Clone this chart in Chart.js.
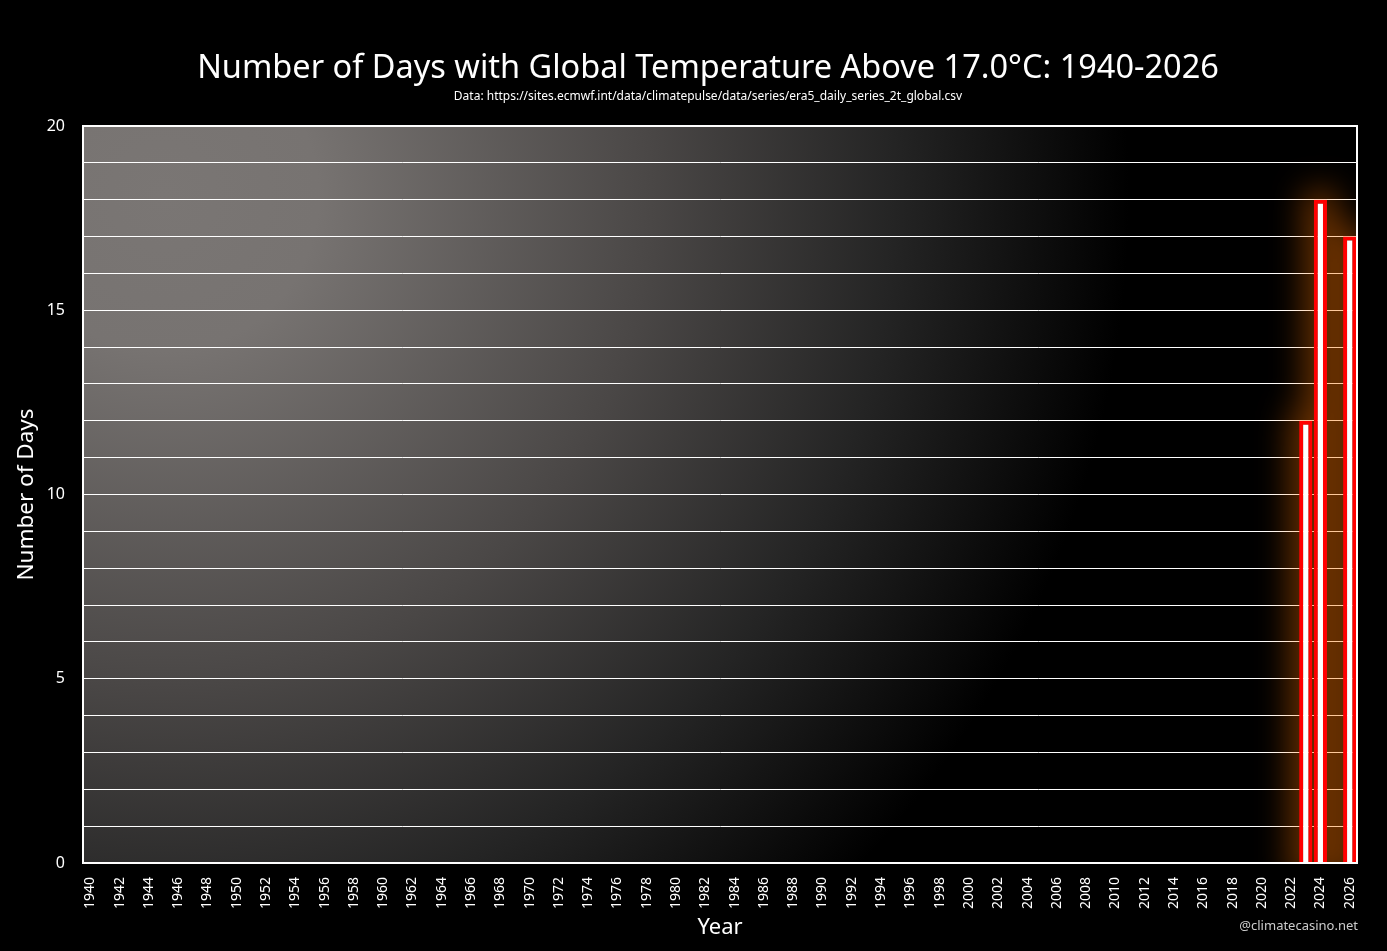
<!DOCTYPE html>
<html>
<head>
<meta charset="utf-8">
<script src="https://cdn.jsdelivr.net/npm/chart.js@4/dist/chart.umd.min.js"></script>
<style>
  html, body { margin: 0; padding: 0; background: #000; }
  #wrap { width: 1387px; height: 951px; }
</style>
</head>
<body>
<div id="wrap"><canvas id="chart" width="1387" height="951"></canvas></div>
<script>
// years on the x axis
const years = [];
for (let y = 1940; y <= 2026; y++) years.push(String(y));

// days above 17.0°C per year (only recent years have any)
const hotYears = ['2023', '2024', '2026'];
const hotDays = [12, 18, 17];

const days = years.map(y => {
    const i = hotYears.indexOf(y);
    return i >= 0 ? hotDays[i] : 0;
});

const yMax = 20;
const yLabelEvery = 5;

const font = '"Noto Sans", "Open Sans", sans-serif';

// grey-to-black backdrop behind the plot
const backdrop = {
    id: 'backdrop',
    beforeDraw(chart) {
        const { ctx, chartArea: a } = chart;
        const cx = a.left + 80, cy = a.top + 70;
        const g = ctx.createRadialGradient(cx, cy, 0, cx, cy, 1110);
        g.addColorStop(0, '#7a7674');
        g.addColorStop(0.14, '#777371');
        g.addColorStop(0.44, '#4a4746');
        g.addColorStop(0.66, '#242424');
        g.addColorStop(0.87, '#000000');
        g.addColorStop(1, '#000000');
        ctx.save();
        ctx.fillStyle = '#000';
        ctx.fillRect(0, 0, chart.width, chart.height);
        ctx.fillStyle = g;
        ctx.fillRect(a.left, a.top, a.right - a.left, a.bottom - a.top);
        ctx.restore();
    }
};

// orange glow behind the bars (shadow only, shape drawn off to the side)
const glow = {
    id: 'glow',
    beforeDatasetsDraw(chart) {
        const { ctx, chartArea: a } = chart;
        const meta = chart.getDatasetMeta(0);
        const shift = 5000;
        const grow = 10;
        ctx.save();
        ctx.beginPath();
        ctx.rect(a.left, a.top, a.right - a.left, a.bottom - a.top);
        ctx.clip();
        ctx.shadowColor = 'rgba(255, 118, 0, 0.40)';
        ctx.shadowBlur = 32;
        ctx.shadowOffsetX = shift;
        ctx.fillStyle = '#000';
        ctx.beginPath();
        meta.data.forEach((bar, i) => {
            if (!days[i]) return;
            const p = bar.getProps(['x', 'y', 'base', 'width'], true);
            ctx.rect(p.x - p.width / 2 - grow - shift, p.y - grow, p.width + grow * 2, p.base - p.y + grow * 3);
        });
        ctx.fill();
        ctx.restore();
    }
};

// white frame and the credit line
const frame = {
    id: 'frame',
    afterDraw(chart) {
        const { ctx, chartArea: a } = chart;
        ctx.save();
        ctx.strokeStyle = '#ffffff';
        ctx.lineWidth = 2;
        ctx.strokeRect(a.left, a.top, a.right - a.left, a.bottom - a.top);
        ctx.fillStyle = '#cccccc';
        ctx.font = '13px ' + font;
        ctx.textAlign = 'right';
        ctx.textBaseline = 'alphabetic';
        ctx.fillText('@climatecasino.net', a.right + 1, 930);
        ctx.restore();
    }
};

new Chart(document.getElementById('chart'), {
    type: 'bar',
    data: {
        labels: years,
        datasets: [{
            data: days,
            backgroundColor: '#ffffff',
            borderColor: '#ff0000',
            borderWidth: 4,
            barPercentage: 0.9,
            categoryPercentage: 1.0
        }]
    },
    options: {
        responsive: false,
        animation: false,
        devicePixelRatio: 1,
        layout: { padding: { left: 29, right: 0, top: 0, bottom: 0 } },
        plugins: {
            legend: { display: false },
            tooltip: { enabled: false },
            title: {
                display: true,
                text: 'Number of Days with Global Temperature Above 17.0°C: 1940-2026',
                color: '#ffffff',
                font: { family: font, size: 32.5, weight: 'normal' },
                padding: { top: 49, bottom: 0 }
            },
            subtitle: {
                display: true,
                text: 'Data: https://sites.ecmwf.int/data/climatepulse/data/series/era5_daily_series_2t_global.csv',
                color: '#ffffff',
                font: { family: font, size: 12, weight: 'normal' },
                padding: { top: 1, bottom: 22.6 }
            }
        },
        scales: {
            x: {
                grid: { display: false },
                border: { display: true, color: '#ffffff', width: 2 },
                ticks: {
                    color: '#ffffff',
                    font: { family: font, size: 14 },
                    autoSkip: false,
                    minRotation: 90,
                    maxRotation: 90,
                    padding: 6,
                    callback(v, i) {
                        const y = Number(years[i]);
                        return y % 2 === 0 ? years[i] : '';
                    }
                },
                title: {
                    display: true,
                    text: 'Year',
                    color: '#ffffff',
                    font: { family: font, size: 22 },
                    padding: { top: 0, bottom: 10 }
                },
                afterFit(scale) { scale.height = 88; }
            },
            y: {
                min: 0,
                max: yMax,
                grid: { color: '#ffffff', lineWidth: 1, drawTicks: false },
                border: { display: true, color: '#ffffff', width: 2 },
                ticks: {
                    stepSize: 1,
                    color: '#ffffff',
                    font: { family: font, size: 16 },
                    padding: 18,
                    callback(v) { return v % yLabelEvery === 0 ? v : ''; }
                },
                title: {
                    display: true,
                    text: 'Number of Days',
                    color: '#ffffff',
                    font: { family: font, size: 22.5 },
                    padding: { top: -15.5, bottom: 0 }
                },
                afterFit(scale) { scale.width = 54; }
            },
            // empty right-hand axis that keeps a margin beside the plot
            yRight: {
                position: 'right',
                display: true,
                min: 0,
                max: yMax,
                grid: { display: false, drawOnChartArea: false },
                border: { display: false },
                ticks: { display: false },
                afterFit(scale) { scale.width = 30; }
            }
        }
    },
    plugins: [backdrop, glow, frame]
});
</script>
</body>
</html>
